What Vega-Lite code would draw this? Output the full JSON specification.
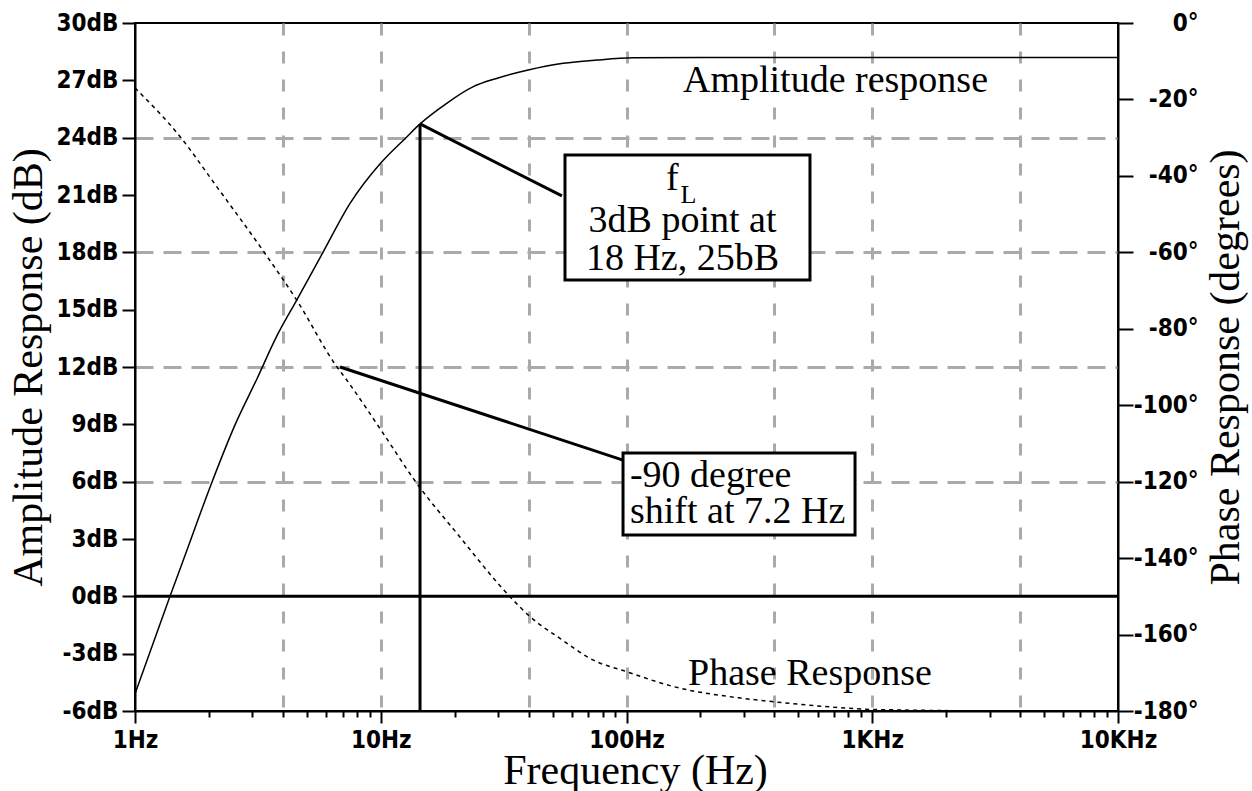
{
  "$schema": "https://vega.github.io/schema/vega-lite/v6.json",
  "width": 983,
  "height": 688,
  "autosize": {"type": "none"},
  "padding": {"left": 135, "top": 23, "right": 134, "bottom": 80},
  "background": "white",
  "config": {
    "view": {"stroke": "black", "strokeWidth": 2},
    "axis": {
      "domainColor": "black", "domainWidth": 2,
      "tickColor": "black", "tickWidth": 2,
      "labelColor": "black",
      "labelFont": "DejaVu Sans Condensed, Liberation Sans Narrow, DejaVu Sans",
      "labelFontWeight": "bold", "labelFontSize": 24,
      "titleFont": "Liberation Serif", "titleFontWeight": "normal",
      "titleFontSize": 42, "titleColor": "black",
      "labelFlush": false, "labelOverlap": false
    }
  },
  "layer": [
    {
      "layer": [
        {
          "data": {"values": [
            {"f": 1, "db": -5.1}, {"f": 1.388, "db": 0}, {"f": 1.573, "db": 1.9},
            {"f": 2.06, "db": 6.0}, {"f": 2.55, "db": 8.96}, {"f": 3.14, "db": 11.4}, {"f": 3.77, "db": 13.6},
            {"f": 4.55, "db": 15.5}, {"f": 5.82, "db": 18.0}, {"f": 7.5, "db": 20.56}, {"f": 10, "db": 22.67},
            {"f": 12.67, "db": 24.0}, {"f": 14.45, "db": 24.72}, {"f": 18.55, "db": 25.8}, {"f": 23.8, "db": 26.67},
            {"f": 29.6, "db": 27.1}, {"f": 39.8, "db": 27.54}, {"f": 55.3, "db": 27.89}, {"f": 75.6, "db": 28.06},
            {"f": 106.6, "db": 28.18}, {"f": 200, "db": 28.2}, {"f": 10000, "db": 28.2}
          ]},
          "mark": {"type": "line", "color": "black", "strokeWidth": 1.5, "interpolate": "monotone"},
          "encoding": {
            "x": {
              "field": "f", "type": "quantitative",
              "scale": {"type": "log", "domain": [1, 10000], "nice": false},
              "axis": {
                "title": "Frequency (Hz)",
                "titleX": 500, "titleY": 72, "titleBaseline": "alphabetic", "titleAlign": "center",
                "values": [1,2,3,4,5,6,7,8,9,10,20,30,40,50,60,70,80,90,100,200,300,400,500,600,700,800,900,1000,2000,3000,4000,5000,6000,7000,8000,9000,10000],
                "labelExpr": "datum.value == 1 ? '1Hz' : datum.value == 10 ? '10Hz' : datum.value == 100 ? '100Hz' : datum.value == 1000 ? '1KHz' : datum.value == 10000 ? '10KHz' : ''",
                "tickSize": {"condition": {"test": "indexof([1,10,100,1000,10000], datum.value) >= 0", "value": 12}, "value": 6},
                "labelPadding": 5,
                "grid": true,
                "gridColor": "#aaaaaa", "gridWidth": 3, "gridDash": [12, 16],
                "gridOpacity": {"condition": {"test": "indexof([4,10,40,100,400,1000,4000], datum.value) >= 0", "value": 1}, "value": 0}
              }
            },
            "y": {
              "field": "db", "type": "quantitative",
              "scale": {"domain": [-6, 30], "nice": false, "zero": false},
              "axis": {
                "title": "Amplitude Response (dB)",
                "titleAngle": -90, "titleX": -94, "titleY": 344, "titleBaseline": "alphabetic", "titleAlign": "center",
                "values": [-6,-3,0,3,6,9,12,15,18,21,24,27,30],
                "labelExpr": "datum.value + 'dB'",
                "tickSize": 13, "labelPadding": 4,
                "grid": true,
                "gridColor": "#aaaaaa", "gridWidth": 3, "gridDash": [18, 10],
                "gridOpacity": {"condition": {"test": "indexof([6,12,18,24], datum.value) >= 0", "value": 1}, "value": 0}
              }
            }
          }
        },
        {
          "data": {"values": [
            {"f": 1, "db": 0, "f2": 10000, "db2": 0},
            {"f": 14.45, "db": 24.72, "f2": 14.45, "db2": -6},
            {"f": 14.45, "db": 24.72, "f2": 54.6, "db2": 20.95},
            {"f": 6.83, "db": 12, "f2": 96.8, "db2": 7.13}
          ]},
          "mark": {"type": "rule", "color": "black", "strokeWidth": 3},
          "encoding": {
            "x": {"field": "f", "type": "quantitative", "scale": {"type": "log", "domain": [1, 10000], "nice": false}},
            "x2": {"field": "f2"},
            "y": {"field": "db", "type": "quantitative", "scale": {"domain": [-6, 30], "nice": false, "zero": false}},
            "y2": {"field": "db2"}
          }
        },
        {
          "data": {"values": [
            {"f": 56.2, "db": 23.09, "f2": 558, "db2": 16.55},
            {"f": 96.8, "db": 7.5, "f2": 851, "db2": 3.21}
          ]},
          "mark": {"type": "rect", "fill": "white", "stroke": "black", "strokeWidth": 3},
          "encoding": {
            "x": {"field": "f", "type": "quantitative", "scale": {"type": "log", "domain": [1, 10000], "nice": false}},
            "x2": {"field": "f2"},
            "y": {"field": "db", "type": "quantitative", "scale": {"domain": [-6, 30], "nice": false, "zero": false}},
            "y2": {"field": "db2"}
          }
        },
        {
          "data": {"values": [
            {"f": 169.8, "db": 26.4, "label": "Amplitude response"},
            {"f": 178, "db": -4.64, "label": "Phase Response"},
            {"f": 103.3, "db": 5.74, "label": "-90 degree"},
            {"f": 103.3, "db": 3.84, "label": "shift at 7.2 Hz"},
            {"f": 144.8, "db": 21.26, "label": "f"}
          ]},
          "mark": {"type": "text", "font": "Liberation Serif", "fontSize": 38, "color": "black", "align": "left", "baseline": "alphabetic"},
          "encoding": {
            "x": {"field": "f", "type": "quantitative", "scale": {"type": "log", "domain": [1, 10000], "nice": false}},
            "y": {"field": "db", "type": "quantitative", "scale": {"domain": [-6, 30], "nice": false, "zero": false}},
            "text": {"field": "label"}
          }
        },
        {
          "data": {"values": [
            {"f": 169, "db": 19.08, "label": "3dB point at"},
            {"f": 169, "db": 17.07, "label": "18 Hz, 25bB"}
          ]},
          "mark": {"type": "text", "font": "Liberation Serif", "fontSize": 38, "color": "black", "align": "center", "baseline": "alphabetic"},
          "encoding": {
            "x": {"field": "f", "type": "quantitative", "scale": {"type": "log", "domain": [1, 10000], "nice": false}},
            "y": {"field": "db", "type": "quantitative", "scale": {"domain": [-6, 30], "nice": false, "zero": false}},
            "text": {"field": "label"}
          }
        },
        {
          "data": {"values": [
            {"f": 165.9, "db": 20.58, "label": "L"}
          ]},
          "mark": {"type": "text", "font": "Liberation Serif", "fontSize": 26, "color": "black", "align": "left", "baseline": "alphabetic"},
          "encoding": {
            "x": {"field": "f", "type": "quantitative", "scale": {"type": "log", "domain": [1, 10000], "nice": false}},
            "y": {"field": "db", "type": "quantitative", "scale": {"domain": [-6, 30], "nice": false, "zero": false}},
            "text": {"field": "label"}
          }
        }
      ]
    },
    {
      "data": {"values": [
        {"f": 1, "deg": -17}, {"f": 1.524, "deg": -29.7}, {"f": 2.15, "deg": -42.8}, {"f": 3.33, "deg": -59.7},
        {"f": 4.55, "deg": -72.5}, {"f": 6.62, "deg": -89.9}, {"f": 7.27, "deg": -93.4}, {"f": 10.24, "deg": -107.4},
        {"f": 14.0, "deg": -120.4}, {"f": 20.4, "deg": -133.5}, {"f": 34.6, "deg": -151.0}, {"f": 40.5, "deg": -155.3},
        {"f": 53.6, "deg": -161.0}, {"f": 73.3, "deg": -166.7}, {"f": 100, "deg": -169.7}, {"f": 155, "deg": -173.6},
        {"f": 299, "deg": -176.7}, {"f": 400, "deg": -177.6}, {"f": 695, "deg": -179.0}, {"f": 1000, "deg": -179.6},
        {"f": 4000, "deg": -180}, {"f": 10000, "deg": -180}
      ]},
      "mark": {"type": "line", "color": "black", "strokeWidth": 1.5, "strokeDash": [4, 4], "interpolate": "monotone"},
      "encoding": {
        "x": {"field": "f", "type": "quantitative", "scale": {"type": "log", "domain": [1, 10000], "nice": false}},
        "y": {
          "field": "deg", "type": "quantitative",
          "scale": {"domain": [-180, 0], "nice": false, "zero": false},
          "axis": {
            "orient": "right",
            "title": "Phase Response (degrees)",
            "titleAngle": -90, "titleX": 120, "titleY": 344, "titleBaseline": "alphabetic", "titleAlign": "center",
            "values": [-180,-160,-140,-120,-100,-80,-60,-40,-20,0],
            "labelExpr": "datum.value + '°'",
            "tickSize": 15, "labelAlign": "right", "labelPadding": 65,
            "grid": false
          }
        }
      }
    }
  ],
  "resolve": {"scale": {"y": "independent"}}
}
